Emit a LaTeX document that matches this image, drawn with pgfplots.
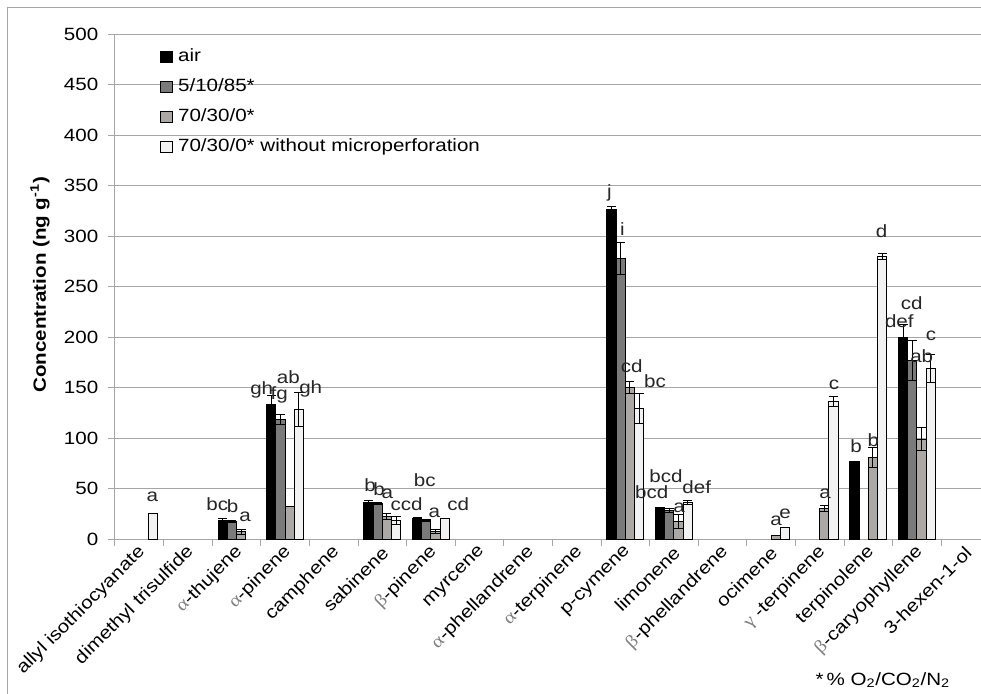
\documentclass[border=0pt]{standalone}
\usepackage{fontspec}
\setmainfont{Liberation Sans}[FakeStretch=1.16]
\newfontfamily\greek{Liberation Serif}[FakeStretch=1.16]
\usepackage{pgfplots}
\usepackage{pgfplotstable}
\pgfplotsset{compat=1.18}
\definecolor{cAir}{HTML}{000000}
\definecolor{cA}{HTML}{7A7A7A}
\definecolor{cB}{HTML}{ABA8A6}
\definecolor{cC}{HTML}{F2F2F2}
\definecolor{gridc}{HTML}{A6A6A6}
\definecolor{sigc}{HTML}{262626}
\tikzset{sig/.style={color=sigc, inner sep=0pt, anchor=center}}

\pgfplotstableread{
x y e
2 18 2.5
3 133 9
5 36 2
6 20 1
10 326 3
11 31 0
15 77 0
16 200 12
}\airdata
\pgfplotstableread{
x y e
2 17 1
3 118 5
5 35 1
6 18.5 1
10 278 16
11 28 2
16 177 20
}\mixA
\pgfplotstableread{
x y e
2 7 2.5
3 32 0
5 22 3
6 7.5 2
10 150 6
11 17 7
13 3 0
14 30 3
15 81 10
16 99 11
}\mixB
\pgfplotstableread{
x y e
0 25 0
3 128 17
5 18 4
6 20.5 0
10 129 15
11 36 2
13 11 0
14 136 5
15 280 3
16 169 14
}\mixC

\newcommand{\gr}[1]{{\greek\color{gray}#1}}

\begin{document}
\begin{tikzpicture}[font=\fontsize{13.3}{16}\selectfont]
\path[use as bounding box] (-86.25pt,-115.5pt) rectangle (649.5pt,404.25pt);
\clip (-86.25pt,-115.5pt) rectangle (649.5pt,404.25pt);
\draw[gridc, line width=0.75pt] (-80.25pt,-300pt) rectangle (900pt,398.25pt);
\begin{axis}[
  at={(0pt,0pt)}, anchor=south west,
  scale only axis, width=656.1pt, height=378.75pt,
  xmin=-0.5, xmax=17.5, ymin=0, ymax=500,
  ytick={0,50,...,500},
  /pgf/number format/assume math mode=true,
  yticklabel style={xshift=-4pt},
  ybar, bar width=0.19,
  clip=false,
  axis lines=left,
  axis line style={-, draw=gridc, line width=0.75pt},
  tick align=outside,
  major tick length=5pt,
  tick style={draw=gridc, line width=0.75pt},
  ymajorgrids,
  grid style={draw=gridc, line width=0.75pt},
  xtick={-0.5,0.5,...,17.5},
  xticklabels={},
  extra x ticks={0,1,...,17},
  extra x tick labels={allyl isothiocyanate, dimethyl trisulfide, \gr{α}-thujene, \gr{α}-pinene, camphene, sabinene, \gr{β}-pinene, myrcene, \gr{α}-phellandrene, \gr{α}-terpinene, p-cymene, limonene, \gr{β}-phellandrene, ocimene, \gr{γ} -terpinene, terpinolene, \gr{β}-caryophyllene, 3-hexen-1-ol},
  extra x tick style={tick style={draw=none}, grid=none,
     xticklabel style={yshift=-2pt, xshift=3pt, rotate=45, anchor=east, inner sep=1pt}},
  ylabel={Concentration (ng g\textsuperscript{-1})},
  ylabel style={at={(axis description cs:-0.0857,0.503)}, anchor=center, font=\fontsize{13.3}{16}\selectfont\bfseries},
  legend image code/.code={\draw[#1, draw=black, line width=0.6pt] (0pt,-4pt) rectangle (8.8pt,4pt);},
  legend cell align=left,
  legend style={draw=none, fill=none, inner sep=0pt, at={(axis description cs:0.0514,0.9716)}, anchor=north west,
     nodes={inner sep=0pt, text height=10pt, text depth=2.5pt, anchor=west}, row sep=10pt, column sep=4pt},
]
\addplot[fill=cAir, draw=black, line width=0.75pt, bar shift=-0.285,
  error bars/.cd, y dir=both, y explicit, error bar style={black, line width=0.75pt}, error mark options={rotate=90, mark size=3.4pt, black, line width=0.75pt}]
  table[x=x, y=y, y error=e] {\airdata};
\addplot[fill=cA, draw=black, line width=0.75pt, bar shift=-0.095,
  error bars/.cd, y dir=both, y explicit, error bar style={black, line width=0.75pt}, error mark options={rotate=90, mark size=3.4pt, black, line width=0.75pt}]
  table[x=x, y=y, y error=e] {\mixA};
\addplot[fill=cB, draw=black, line width=0.75pt, bar shift=0.095,
  error bars/.cd, y dir=both, y explicit, error bar style={black, line width=0.75pt}, error mark options={rotate=90, mark size=3.4pt, black, line width=0.75pt}]
  table[x=x, y=y, y error=e] {\mixB};
\addplot[fill=cC, draw=black, line width=0.75pt, bar shift=0.285,
  error bars/.cd, y dir=both, y explicit, error bar style={black, line width=0.75pt}, error mark options={rotate=90, mark size=3.4pt, black, line width=0.75pt}]
  table[x=x, y=y, y error=e] {\mixC};
\legend{air, 5/10/85*, 70/30/0*, 70/30/0* without microperforation}

\node[sig] at (axis cs:0.267,41.9) {a};
\node[sig] at (axis cs:1.605,34.7) {bc};
\node[sig] at (axis cs:1.922,33) {b};
\node[sig] at (axis cs:2.175,22) {a};
\node[sig] at (axis cs:2.519,147.5) {gh};
\node[sig] at (axis cs:2.881,143) {fg};
\node[sig] at (axis cs:3.066,160.7) {ab};
\node[sig] at (axis cs:3.527,148.5) {gh};
\node[sig] at (axis cs:4.747,53.5) {b};
\node[sig] at (axis cs:4.932,49.5) {b};
\node[sig] at (axis cs:5.103,45.2) {a};
\node[sig] at (axis cs:5.276,33) {c};
\node[sig] at (axis cs:5.605,34.3) {cd};
\node[sig] at (axis cs:5.872,58.4) {bc};
\node[sig] at (axis cs:6.070,26.4) {a};
\node[sig] at (axis cs:6.564,34.3) {cd};
\node[sig] at (axis cs:9.671,342.6) {j};
\node[sig] at (axis cs:9.938,306.6) {i};
\node[sig] at (axis cs:10.132,171.3) {cd};
\node[sig] at (axis cs:10.611,156.4) {bc};
\node[sig] at (axis cs:10.543,45.9) {bcd};
\node[sig] at (axis cs:10.837,62.4) {bcd};
\node[sig] at (axis cs:11.105,30.4) {a};
\node[sig] at (axis cs:11.469,51.8) {def};
\node[sig] at (axis cs:13.101,18.1) {a};
\node[sig] at (axis cs:13.286,25.4) {e};
\node[sig] at (axis cs:14.109,45.2) {a};
\node[sig] at (axis cs:14.294,152.5) {c};
\node[sig] at (axis cs:14.747,92) {b};
\node[sig] at (axis cs:15.103,98) {b};
\node[sig] at (axis cs:15.276,304.3) {d};
\node[sig] at (axis cs:15.638,216) {def};
\node[sig] at (axis cs:15.893,233.4) {cd};
\node[sig] at (axis cs:16.099,181.5) {ab};
\node[sig] at (axis cs:16.290,201) {c};
\end{axis}
\node[anchor=base west] at (522pt,-109.5pt) {*\,\% O\textsubscript{2}/CO\textsubscript{2}/N\textsubscript{2}};
\end{tikzpicture}
\end{document}
